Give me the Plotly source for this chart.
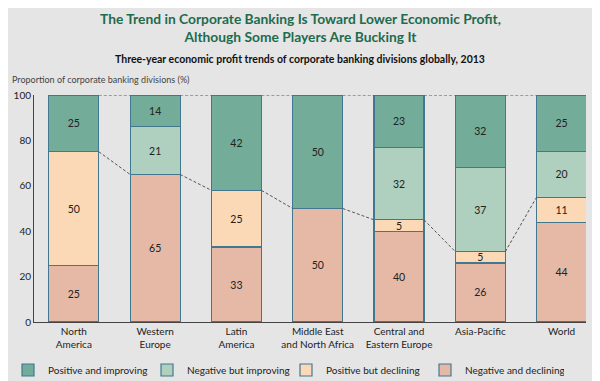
import plotly.graph_objects as go

categories = ["North<br>America", "Western<br>Europe", "Latin<br>America", "Middle East<br>and North Africa",
              "Central and<br>Eastern Europe", "Asia-Pacific", "World"]
pos_improving = [25, 14, 42, 50, 23, 32, 25]
neg_improving = [0, 21, 0, 0, 32, 37, 20]
pos_declining = [50, 0, 25, 0, 5, 5, 11]
neg_declining = [25, 65, 33, 50, 40, 26, 44]
y_ticks = [0, 20, 40, 60, 80, 100]

series = [
    ("Negative and declining", neg_declining, "#e5b9a5"),
    ("Positive but declining", pos_declining, "#fbd8b6"),
    ("Negative but improving", neg_improving, "#afcfbf"),
    ("Positive and improving", pos_improving, "#73ac98"),
]

W = 0.615
xs = list(range(len(categories)))
OUTLINE = "#41788f"
FONT = "Lato, Open Sans, sans-serif"

# page body has an 8px margin: figure is drawn 8px right/down of the window corner
FW, FH = 592, 373

fig = go.Figure()

# dashed connector lines
declining_total = [a + b for a, b in zip(neg_declining, pos_declining)]
lx, ly, tx, ty = [], [], [], []
for i in range(len(xs) - 1):
    lx += [xs[i] + W / 2, xs[i + 1] - W / 2, None]
    ly += [declining_total[i], declining_total[i + 1], None]
    tx += [xs[i] + W / 2, xs[i + 1] - W / 2, None]
    ty += [100, 100, None]
fig.add_trace(go.Scatter(x=lx + tx, y=ly + ty, mode="lines", showlegend=False, hoverinfo="skip",
                         line=dict(color="#555555", width=1, dash="3px,2px")))

for name, vals, col in series:
    fig.add_trace(go.Bar(
        x=xs, y=vals, name=name, width=W,
        marker=dict(color=col, line=dict(color=OUTLINE, width=1.2)),
        text=[str(v) if v else "" for v in vals], textposition="inside",
        insidetextanchor="middle", textangle=0,
        textfont=dict(size=10.5, color="#222222", family=FONT),
    ))

fig.update_layout(
    width=FW, height=FH,
    barmode="stack",
    paper_bgcolor="#e5e5e5", plot_bgcolor="#e5e5e5",
    margin=dict(l=26, r=14, t=87, b=59, autoexpand=False),
    font=dict(family=FONT, color="#222222"),
    uniformtext=dict(minsize=8, mode="show"),
    legend=dict(orientation="h", traceorder="reversed", xref="container", x=-10.5 / FW, xanchor="left",
                yref="container", y=(FH - 362) / FH, yanchor="middle", entrywidth=94,
                itemwidth=30, font=dict(size=10, color="#222222"), bgcolor="rgba(0,0,0,0)"),
    xaxis=dict(range=[-0.49, 6.3], tickvals=xs, ticktext=categories, showgrid=False, automargin=False,
               showline=True, linecolor="#444444", linewidth=1, ticks="", zeroline=False,
               tickfont=dict(size=10, color="#222222")),
    yaxis=dict(range=[0, 100], tickvals=y_ticks, showgrid=False, showline=True, automargin=False,
               linecolor="#444444", linewidth=1, ticks="", zeroline=False,
               tickfont=dict(size=10, color="#222222")),
    annotations=[
        dict(text="<b>The Trend in Corporate Banking Is Toward Lower Economic Profit,<br>Although Some Players Are Bucking It</b>",
             xref="paper", yref="paper", x=(300 - 34) / 552, y=(322 - 28) / 227,
             xanchor="center", yanchor="middle", showarrow=False,
             font=dict(size=13.8, color="#1e6b4d", family=FONT)),
        dict(text="<b>Three-year economic profit trends of corporate banking divisions globally, 2013</b>",
             xref="paper", yref="paper", x=(300 - 34) / 552, y=(322 - 59) / 227,
             xanchor="center", yanchor="middle", showarrow=False,
             font=dict(size=10.5, color="#111111", family=FONT)),
        dict(text="Proportion of corporate banking divisions (%)",
             xref="paper", yref="paper", x=(10 - 34) / 552, y=(322 - 80) / 227,
             xanchor="left", yanchor="middle", showarrow=False,
             font=dict(size=9, color="#444444", family=FONT)),
    ],
)

fig.write_html("out.html")
